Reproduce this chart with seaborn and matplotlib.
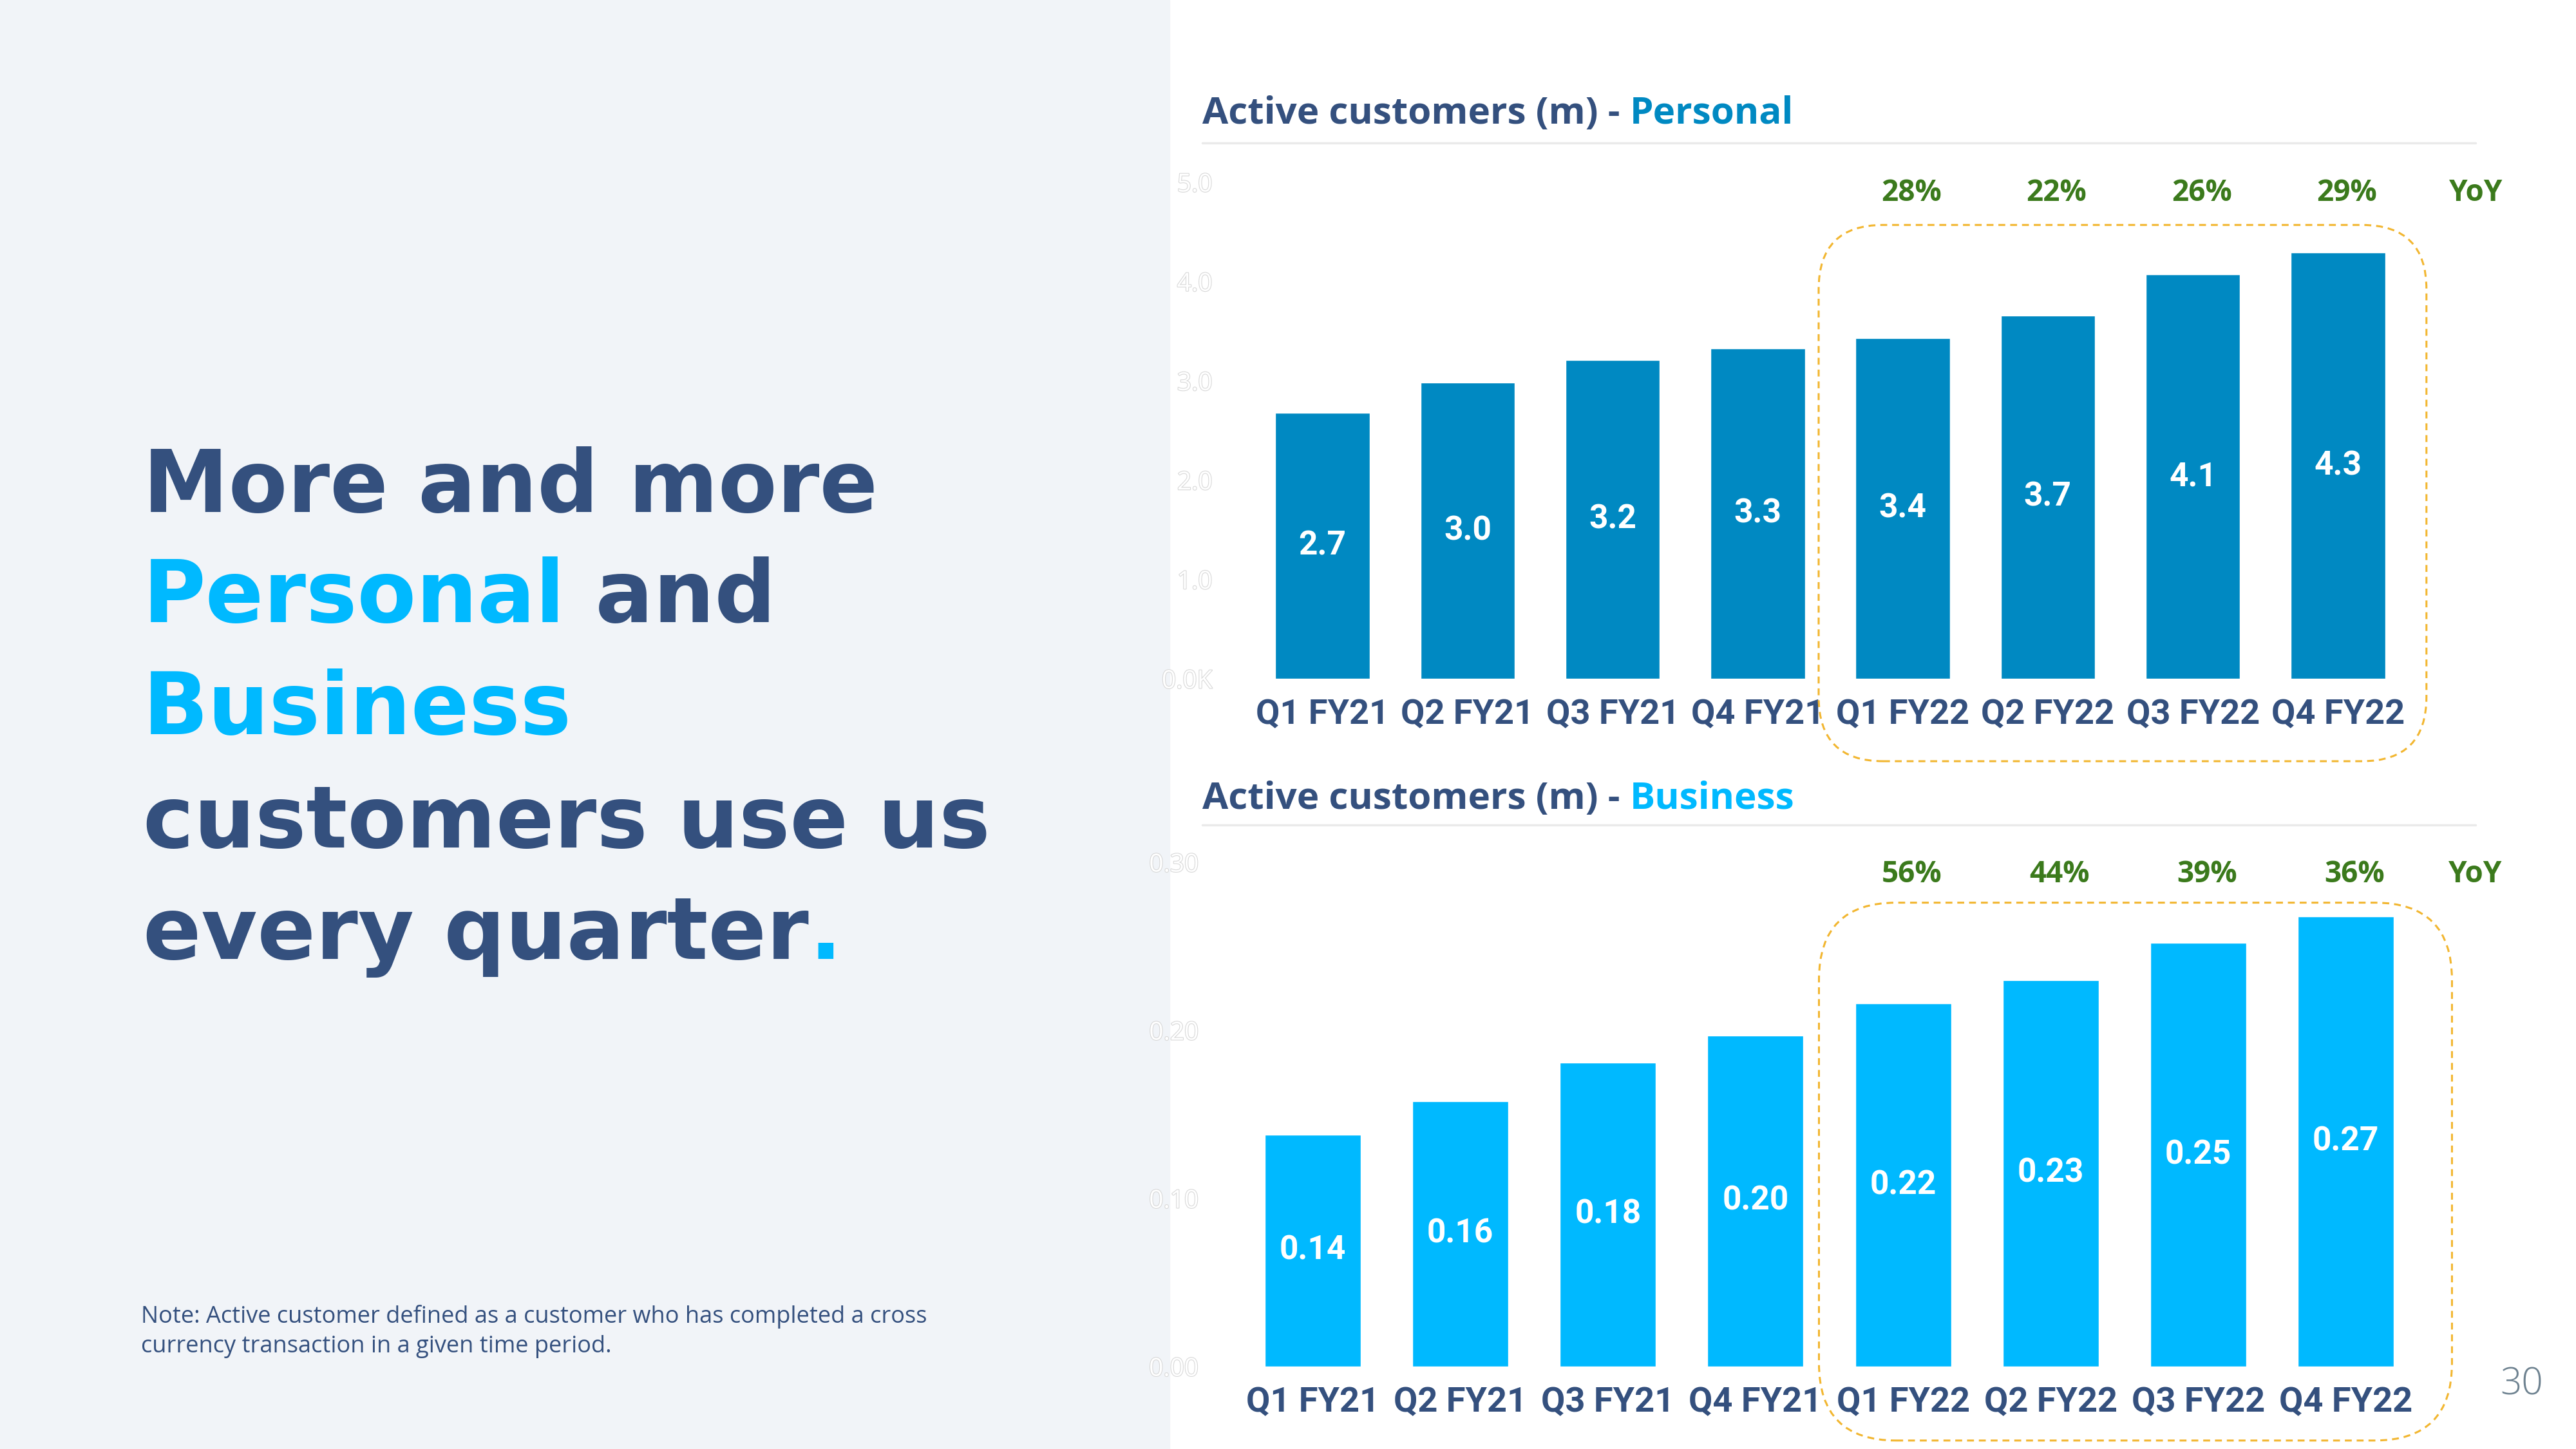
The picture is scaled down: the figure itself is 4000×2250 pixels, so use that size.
import matplotlib
matplotlib.use("Agg")
import matplotlib.patheffects as pe
import matplotlib.pyplot as plt
import matplotlib.transforms as mtransforms
import seaborn as sns
from matplotlib.lines import Line2D
from matplotlib.patches import FancyBboxPatch, Rectangle

# ---- data ----
quarters = ["Q1 FY21", "Q2 FY21", "Q3 FY21", "Q4 FY21",
            "Q1 FY22", "Q2 FY22", "Q3 FY22", "Q4 FY22"]
personal_m = [2.68, 2.98, 3.21, 3.33, 3.43, 3.66, 4.07, 4.29]
business_m = [0.138, 0.158, 0.181, 0.197, 0.216, 0.230, 0.252, 0.268]
personal_yoy = ["28%", "22%", "26%", "29%"]
business_yoy = ["56%", "44%", "39%", "36%"]
personal_ticks = [0, 1, 2, 3, 4, 5]
personal_tick_labels = ["0.0K", "1.0", "2.0", "3.0", "4.0", "5.0"]
business_ticks = [0.0, 0.1, 0.2, 0.3]
business_tick_labels = ["0.00", "0.10", "0.20", "0.30"]

NAVY = "#34507E"
CYAN = "#00B9FF"
BLUE = "#0089C2"
GREEN = "#3B7A1C"
GOLD = "#F2B630"
W, H = 4000, 2250

sns.set_style("white")
plt.rcParams["font.family"] = ["Open Sans", "DejaVu Sans"]

fig = plt.figure(figsize=(40, 22.5), dpi=100)
fig.patch.set_facecolor("white")
# grey left half of the slide, kept behind the axes
fig.patches.append(Rectangle((0, 0), 1816 / W, 1, transform=fig.transFigure,
                             color="#F1F4F8", zorder=-1))
renderer = fig.canvas.get_renderer()


def fpos(x, y):
    return x / W, 1 - y / H


def text_width(s, **style):
    t = fig.text(0, 0, s, **style)
    w = t.get_window_extent(renderer).width
    t.remove()
    return w


def draw_runs(x, y, runs, **style):
    # write coloured pieces of one line next to each other
    done = ""
    for text, color in runs:
        off = 0 if not done else text_width(done + "|", **style) - text_width("|", **style)
        fx, fy = fpos(x + off, y)
        fig.text(fx, fy, text, color=color, va="baseline", ha="left", **style)
        done += text


def draw_chart(ax, values, fmt, color, ticks, tick_labels, ymax, ypad):
    sns.barplot(x=quarters, y=values, color=color, saturation=1, width=0.65,
                errorbar=None, ax=ax)
    ax.set_xlim(-0.5, 7.5)
    ax.set_ylim(0, ymax)
    ax.set_facecolor("none")
    sns.despine(ax=ax, left=True, bottom=True)
    ax.set_xlabel("")
    ax.set_ylabel("")
    ax.set_yticks(ticks, tick_labels)
    ax.tick_params(axis="x", length=0, pad=22, labelsize=39, labelcolor=NAVY)
    ax.tick_params(axis="y", length=0, pad=ypad, labelsize=28)
    for lbl in ax.get_xticklabels():
        lbl.set_fontweight("bold")
        lbl.set_fontfamily(["Roboto", "DejaVu Sans"])
    for lbl in ax.get_yticklabels():
        lbl.set_color("white")
        lbl.set_path_effects([pe.Stroke(linewidth=1.6, foreground="#D8D8D8"), pe.Normal()])
    ax.bar_label(ax.containers[0], fmt=fmt, label_type="center", color="white",
                 fontsize=37, fontweight="bold", family=["Roboto", "DejaVu Sans"])


def draw_yoy(ax, labels, y, yoy_x):
    for i, lbl in enumerate(labels):
        ax.text(4 + i + 0.06, y, lbl, ha="center", va="center", color=GREEN,
                fontsize=33, fontweight="bold", clip_on=False)
    ax.text(yoy_x, y, "YoY", ha="center", va="center", color=GREEN,
            fontsize=33, fontweight="bold", clip_on=False)


def dashed_box(ax, x0, y0, x1, y1, radius):
    (px0, py0) = ax.transData.transform((x0, y0))
    (px1, py1) = ax.transData.transform((x1, y1))
    box = FancyBboxPatch((px0, py0), px1 - px0, py1 - py0,
                         boxstyle=f"round,pad=0,rounding_size={radius}",
                         transform=mtransforms.IdentityTransform(),
                         fill=False, ec=GOLD, lw=2.2, ls=(0, (3.5, 2.5)),
                         clip_on=False, zorder=5)
    fig.add_artist(box)


# ---- personal chart ----
ax_p = fig.add_axes([1941 / W, 1 - 1054 / H, (3743 - 1941) / W, (1054 - 283) / H])
draw_chart(ax_p, personal_m, "%.1f", BLUE, personal_ticks, personal_tick_labels, 5, 42)
draw_yoy(ax_p, personal_yoy, 4.89, 7.95)
dashed_box(ax_p, 3.42, -0.83, 7.61, 4.57, 100)

# ---- business chart ----
ax_b = fig.add_axes([1924 / W, 1 - 2122 / H, (3757 - 1924) / W, (2122 - 1339) / H])
draw_chart(ax_b, business_m, "%.2f", CYAN, business_ticks, business_tick_labels, 0.3, 45)
draw_yoy(ax_b, business_yoy, 0.293, 7.88)
dashed_box(ax_b, 3.43, -0.044, 7.72, 0.276, 120)

# ---- chart titles and rules ----
title_style = dict(fontsize=42, fontweight="bold")
draw_runs(1867, 192, [("Active customers (m) - ", NAVY), ("Personal", BLUE)], **title_style)
draw_runs(1867, 1256, [("Active customers (m) - ", NAVY), ("Business", CYAN)], **title_style)
for y in (222, 1281):
    fig.add_artist(Line2D([1867 / W, 3844 / W], [1 - y / H] * 2,
                          transform=fig.transFigure, color="#EAEAEA", lw=2.5))

# ---- headline ----
head_style = dict(fontsize=96, fontweight="bold", family=["DejaVu Sans"])
draw_runs(222, 795, [("More and more", NAVY)], **head_style)
draw_runs(222, 966, [("Personal", CYAN), (" and", NAVY)], **head_style)
draw_runs(222, 1140, [("Business", CYAN)], **head_style)
draw_runs(222, 1316, [("customers use us", NAVY)], **head_style)
draw_runs(222, 1489, [("every quarter", NAVY), (".", CYAN)], **head_style)

# ---- footnote and page number ----
fx, fy = fpos(219, 2054)
fig.text(fx, fy, "Note: Active customer defined as a customer who has completed a cross",
         color=NAVY, fontsize=26, va="baseline")
fx, fy = fpos(219, 2100)
fig.text(fx, fy, "currency transaction in a given time period.",
         color=NAVY, fontsize=26, va="baseline")
fx, fy = fpos(3916, 2150)
fig.text(fx, fy, "30", color="#6E8290", fontsize=42, fontweight="light",
         ha="center", va="center")

fig.savefig("out.png", dpi=100, facecolor="white")
